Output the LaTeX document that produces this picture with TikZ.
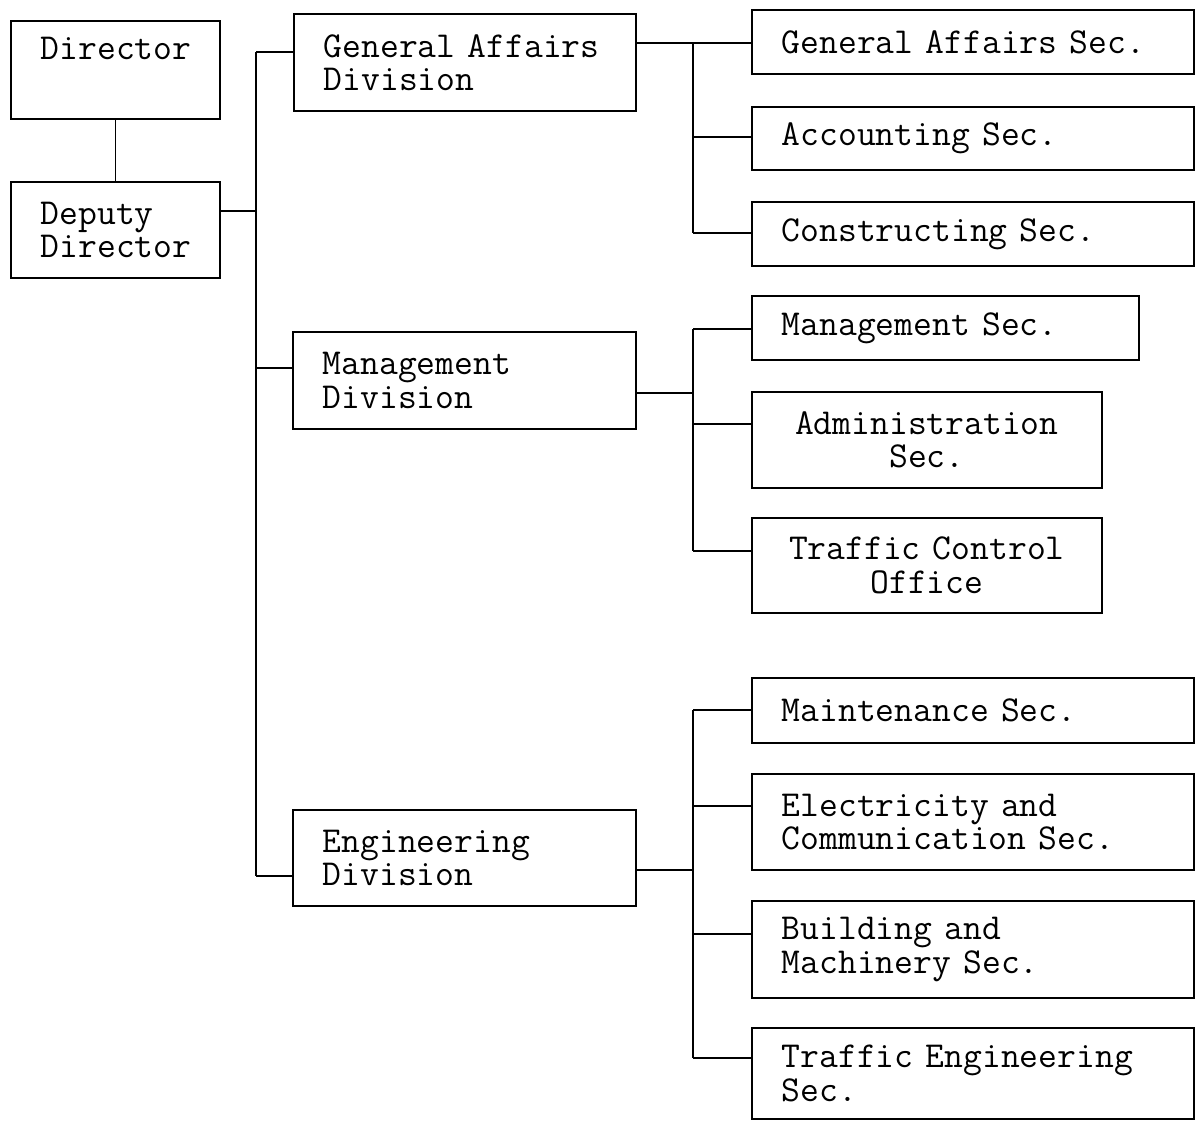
\documentclass[tikz,border=0pt]{standalone}
\usepackage{fontspec}
\usepackage{tikz}
\usetikzlibrary{positioning}

\begin{document}
\begin{tikzpicture}[
  x=0.02cm, y=-0.02cm,
  font=\ttfamily\fontsize{20.8}{18.9}\selectfont,
  box/.style 2 args={draw, line width=1pt, anchor=north west, inner sep=0pt,
    minimum width=#1*0.02cm, minimum height=#2*0.02cm,
    text width=(#1-60)*0.02cm, align=left},
  link/.style={line width=1pt}
]
\useasboundingbox (0,0) rectangle (1195,1120);

% top
\node[box={209}{98}] (dir) at (10,20) {Director\\\strut};
\node[box={209}{96}] (dep) at (10,181) {Deputy\\Director};

% divisions
\node[box={342}{97}] (gad) at (293,13) {General Affairs\\Division};
\node[box={343}{97}] (mgd) at (292,331) {Management\\Division};
\node[box={343}{96}] (eng) at (292,809) {Engineering\\Division};

% sections
\node[box={442}{64}] (gas) at (751,9) {General Affairs Sec.};
\node[box={442}{63}] (acc) at (751,106) {Accounting Sec.};
\node[box={442}{64}] (con) at (751,201) {Constructing Sec.};
\node[box={387}{64}] (mgs) at (751,295) {Management Sec.};
\node[box={350}{96}, align=center] (adm) at (751,391) {Administration\\Sec.};
\node[box={350}{95}, align=center] (tco) at (751,517) {Traffic Control\\Office};
\node[box={442}{65}] (mai) at (751,677) {Maintenance Sec.};
\node[box={442}{96}] (ele) at (751,773) {Electricity and\\Communication Sec.};
\node[box={442}{97}] (bld) at (751,900) {Building and\\Machinery Sec.};
\node[box={442}{91}] (tre) at (751,1027) {Traffic Engineering\\Sec.};

% main trunk
\draw[link] (dir) -- (dep);
\foreach \n/\y in {gad/52, mgd/368, eng/876}{
  \coordinate (k-\n) at (256,\y);
  \draw[link] (k-\n) -- (k-\n -| \n.west);
}
\coordinate (k-dep) at (256,211);
\draw[link] (dep.east |- k-dep) -- (k-dep);
\draw[link] (k-gad) -- (k-eng);

% section branches
\foreach \n/\y in {gas/43, acc/137, con/233, mgs/329, adm/424, tco/551,
                   mai/710, ele/806, bld/934, tre/1058}{
  \coordinate (j-\n) at (693,\y);
  \draw[link] (j-\n) -- (j-\n -| \n.west);
}
\coordinate (j-mgd) at (693,393);
\coordinate (j-eng) at (693,870);
\draw[link] (gad.east |- j-gas) -- (j-gas) -- (j-con);
\draw[link] (mgd.east |- j-mgd) -- (j-mgd);
\draw[link] (j-mgs) -- (j-tco);
\draw[link] (eng.east |- j-eng) -- (j-eng);
\draw[link] (j-mai) -- (j-tre);
\end{tikzpicture}
\end{document}
